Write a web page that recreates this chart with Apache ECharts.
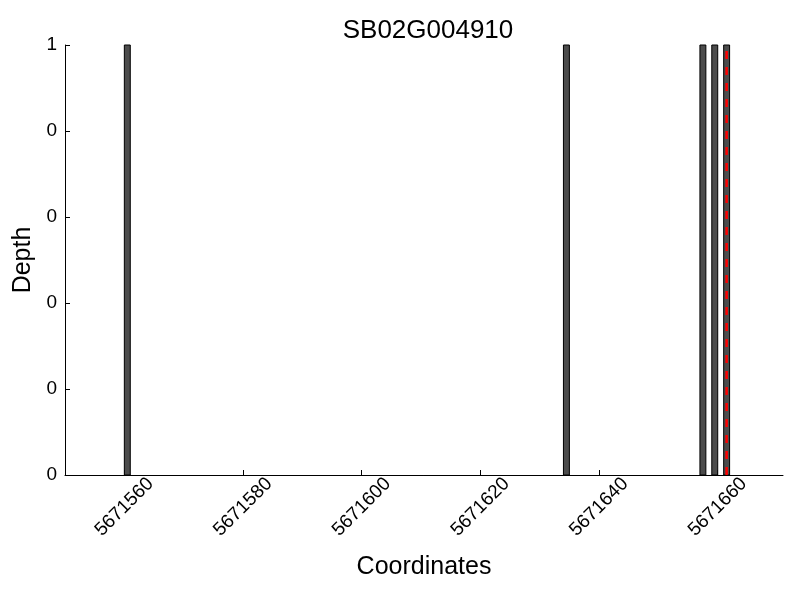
<!DOCTYPE html>
<html>
<head>
<meta charset="utf-8">
<script src="https://cdn.jsdelivr.net/npm/echarts@6/dist/echarts.min.js"></script>
<style>
  html, body { margin: 0; padding: 0; background: #fff; }
  #main { width: 800px; height: 600px; }
</style>
</head>
<body>
<div id="main"></div>
<script>
// positions (left edge of each 1bp bar) and read depth
const positions = [5671560, 5671634, 5671657, 5671659, 5671661];
const depths = [1, 1, 1, 1, 1];
// red dashed marker position
const markerPos = 5671661.5;
const xTicks = [5671560, 5671580, 5671600, 5671620, 5671640, 5671660];

const chart = echarts.init(document.getElementById('main'));
const font = 'Liberation Sans';

const barData = positions.map((p, i) => [p, depths[i]]);

const option = {
  animation: false,
  title: {
    text: 'SB02G004910',
    left: 423,
    top: 13,
    textAlign: 'center',
    textStyle: { fontFamily: font, fontSize: 26, fontWeight: 'normal', color: '#000' }
  },
  grid: { left: 65, right: 17, top: 45, bottom: 125, containLabel: false, outerBoundsMode: 'none' },
  xAxis: {
    type: 'value',
    min: 5671550,
    max: 5671671,
    name: 'Coordinates',
    nameLocation: 'middle',
    nameGap: 80,
    nameTextStyle: { fontFamily: font, fontSize: 25, color: '#000' },
    axisLine: { show: true, lineStyle: { color: '#000', width: 1 } },
    axisTick: { inside: true, length: 5, lineStyle: { color: '#000' }, customValues: xTicks },
    axisLabel: {
      customValues: xTicks,
      rotate: 45,
      align: 'center',
      verticalAlign: 'middle',
      margin: 32,
      fontFamily: font,
      fontSize: 19,
      color: '#000',
      formatter: v => String(v)
    },
    splitLine: { show: false }
  },
  yAxis: {
    type: 'value',
    min: 0,
    max: 1,
    interval: 0.2,
    name: 'Depth',
    nameLocation: 'middle',
    nameGap: 27,
    nameTextStyle: { fontFamily: font, fontSize: 25, color: '#000' },
    axisLine: { show: true, lineStyle: { color: '#000', width: 1 } },
    axisTick: { show: true, inside: true, length: 5, lineStyle: { color: '#000' } },
    axisLabel: {
      margin: 8,
      fontFamily: font,
      fontSize: 19,
      color: '#000',
      formatter: v => String(Math.floor(v + 1e-9))
    },
    splitLine: { show: false }
  },
  series: [
    {
      type: 'custom',
      data: barData,
      renderItem: function (params, api) {
        const x = api.value(0);
        const y = api.value(1);
        const tl = api.coord([x, y]);
        const br = api.coord([x + 1, 0]);
        return {
          type: 'rect',
          shape: { x: tl[0], y: tl[1], width: br[0] - tl[0], height: br[1] - tl[1] },
          style: { fill: '#4c4c4c', stroke: '#000', lineWidth: 1 }
        };
      },
      z: 2
    },
    {
      type: 'line',
      data: [[markerPos, 0], [markerPos, 1]],
      symbol: 'none',
      lineStyle: { color: '#ff0000', width: 2.5, type: [8, 8] },
      z: 3
    }
  ]
};
chart.setOption(option);
</script>
</body>
</html>
